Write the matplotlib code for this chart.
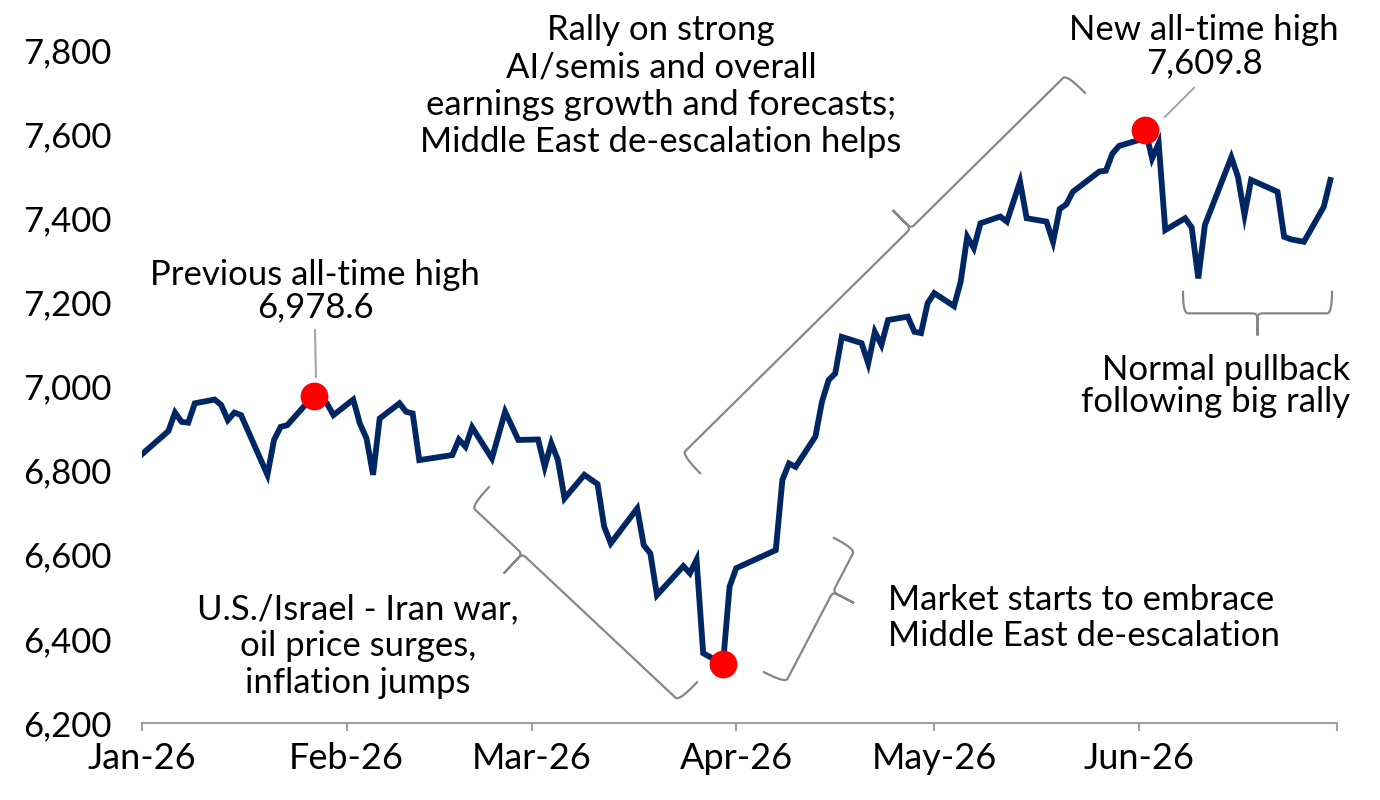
import numpy as np
import pandas as pd
import matplotlib
matplotlib.use("Agg")
import matplotlib.pyplot as plt
import matplotlib.dates as mdates
from matplotlib.lines import Line2D
from matplotlib.transforms import IdentityTransform
from matplotlib.ticker import StrMethodFormatter

plt.rcParams['font.family'] = ['Lato', 'DejaVu Sans']

# S&P 500 level, 2026
dates = ["2026-01-01", "2026-01-05", "2026-01-06", "2026-01-07", "2026-01-08", "2026-01-09",
         "2026-01-12", "2026-01-13", "2026-01-14", "2026-01-15", "2026-01-16", "2026-01-20",
         "2026-01-21", "2026-01-22", "2026-01-23", "2026-01-27", "2026-01-29", "2026-01-30",
         "2026-02-02", "2026-02-03", "2026-02-04", "2026-02-05", "2026-02-06", "2026-02-09",
         "2026-02-10", "2026-02-11", "2026-02-12", "2026-02-17", "2026-02-18", "2026-02-19",
         "2026-02-20", "2026-02-23", "2026-02-25", "2026-02-27", "2026-03-02", "2026-03-03",
         "2026-03-04", "2026-03-05", "2026-03-06", "2026-03-09", "2026-03-10", "2026-03-11",
         "2026-03-12", "2026-03-13", "2026-03-17", "2026-03-18", "2026-03-19", "2026-03-20",
         "2026-03-24", "2026-03-25", "2026-03-26", "2026-03-27", "2026-03-30", "2026-03-31",
         "2026-04-01", "2026-04-07", "2026-04-08", "2026-04-09", "2026-04-10", "2026-04-13",
         "2026-04-14", "2026-04-15", "2026-04-16", "2026-04-17", "2026-04-20", "2026-04-21",
         "2026-04-22", "2026-04-23", "2026-04-24", "2026-04-27", "2026-04-28", "2026-04-29",
         "2026-04-30", "2026-05-01", "2026-05-04", "2026-05-05", "2026-05-06", "2026-05-07",
         "2026-05-08", "2026-05-11", "2026-05-12", "2026-05-14", "2026-05-15", "2026-05-18",
         "2026-05-19", "2026-05-20", "2026-05-21", "2026-05-22", "2026-05-26", "2026-05-27",
         "2026-05-28", "2026-05-29", "2026-06-01", "2026-06-02", "2026-06-03", "2026-06-04",
         "2026-06-05", "2026-06-08", "2026-06-09", "2026-06-10", "2026-06-11", "2026-06-15",
         "2026-06-16", "2026-06-17", "2026-06-18", "2026-06-22", "2026-06-23", "2026-06-24",
         "2026-06-26", "2026-06-29", "2026-06-30"]
values = [6839, 6894, 6938, 6916, 6914, 6960,
          6969, 6956, 6920, 6938, 6932, 6790,
          6873, 6904, 6908, 6978.6, 6960, 6932,
          6969, 6912, 6877, 6790, 6924, 6960,
          6940, 6936, 6825, 6837, 6874, 6857,
          6903, 6829, 6940, 6873, 6874, 6809,
          6865, 6825, 6734, 6790, 6779, 6768,
          6667, 6627, 6710, 6623, 6603, 6504,
          6573, 6556, 6588, 6366, 6340, 6524,
          6568, 6611, 6778, 6817, 6809, 6881,
          6964, 7015, 7031, 7118, 7103, 7055,
          7130, 7099, 7158, 7166, 7130, 7127,
          7198, 7222, 7191, 7249, 7356, 7329,
          7388, 7404, 7392, 7487, 7400, 7392,
          7344, 7422, 7433, 7463, 7511, 7513,
          7554, 7572, 7586, 7609.8, 7542, 7578,
          7372, 7400, 7378, 7257, 7384, 7545,
          7499, 7408, 7491, 7463, 7356, 7350,
          7344, 7427, 7491]

marker_dates = ["2026-01-27", "2026-03-30", "2026-06-02"]
marker_values = [6978.6, 6340, 7609.8]

month_ticks = ["2026-01-01", "2026-02-01", "2026-03-01", "2026-04-01",
               "2026-05-01", "2026-06-01", "2026-07-01"]
month_labels = ["Jan-26", "Feb-26", "Mar-26", "Apr-26", "May-26", "Jun-26", ""]
y_ticks = [6200, 6400, 6600, 6800, 7000, 7200, 7400, 7600, 7800]

navy = "#002664"
brace_col = "#878787"
lead_col = "#A6A6A6"

fig = plt.figure(figsize=(13.8, 8), dpi=100)
ax = fig.add_axes([0.1029, 0.09625, 0.8659, 0.84125])

x = pd.to_datetime(dates)
ax.plot(x, values, color=navy, lw=4.2, solid_joinstyle="miter", zorder=2)
ax.plot(pd.to_datetime(marker_dates), marker_values, "o", color="#FF0000",
        ms=20, mec="none", zorder=3)

ax.set_xlim(pd.Timestamp("2026-01-01"), pd.Timestamp("2026-07-01"))
ax.set_ylim(6200, 7800)
ax.set_xticks(pd.to_datetime(month_ticks))
ax.set_xticklabels(month_labels)
ax.set_yticks(y_ticks)
ax.yaxis.set_major_formatter(StrMethodFormatter("{x:,.0f}"))

for s in ["top", "right", "left"]:
    ax.spines[s].set_visible(False)
ax.spines["bottom"].set_color("#A0A0A0")
ax.spines["bottom"].set_linewidth(1.5)
ax.tick_params(axis="x", direction="out", length=6, width=1.5, color="#A0A0A0",
               labelsize=26, pad=8)
ax.tick_params(axis="y", length=0, labelsize=25, pad=22)

base = mdates.date2num(pd.Timestamp("2026-01-01"))


def dx(d):
    # fractional days after Jan 1 -> date number
    return base + d


# leader lines for the two highs
ax.plot([dx(26.2), dx(26.35)], [7134, 7023], color=lead_col, lw=1.5, clip_on=False, zorder=1)
ax.plot([dx(154.95), dx(159.35)], [7641, 7710], color=lead_col, lw=1.5, clip_on=False, zorder=1)


def quad(p, c, e, k=10):
    s = np.linspace(0, 1, k)[:, None]
    p, c, e = np.array(p), np.array(c), np.array(e)
    return (1 - s) ** 2 * p + 2 * (1 - s) * s * c + s ** 2 * e


def brace(p0, p1, h, c, frac, side, r=5):
    a = ax.transData.transform((dx(p0[0]), p0[1]))
    b = ax.transData.transform((dx(p1[0]), p1[1]))
    t = b - a
    L = np.hypot(*t)
    t = t / L
    n = np.array([-t[1], t[0]]) * side
    m = frac * L
    uv = np.vstack([
        quad((0, 0), (0, h), (r, h)),
        quad((m - r, h), (m, h), (m, h + r)),
        [(m, h + c), (m, h + r)],
        quad((m, h + r), (m, h), (m + r, h)),
        quad((L - r, h), (L, h), (L, 0)),
    ])
    pts = a + uv[:, :1] * t + uv[:, 1:] * n
    fig.add_artist(Line2D(pts[:, 0], pts[:, 1], transform=IdentityTransform(),
                          color=brace_col, lw=1.6, solid_joinstyle="round"))


brace((84.52, 6794), (142.84, 7698), 26, 25, 0.595, 1)   # rally
brace((52.56, 6761), (84.07, 6297), 26, 26, 0.245, -1)   # war
brace((104.82, 6640), (94.21, 6321), 24, 23, 0.32, 1)    # market
brace((157.68, 7225), (180.25, 7225), 21.5, 21.5, 0.5, -1)  # pullback

fs = 25
ax.text(dx(26.2), 7227, "Previous all-time high\n6,978.6", ha="center", va="center",
        fontsize=fs, linespacing=0.99)
ax.text(dx(160.9), 7808, "New all-time high\n7,609.8", ha="center", va="center",
        fontsize=fs, linespacing=1.08)
ax.text(dx(78.6), 7714, "Rally on strong\nAI/semis and overall\nearnings growth and forecasts;\n"
        "Middle East de-escalation helps", ha="center", va="center", fontsize=fs,
        linespacing=1.2)
ax.text(dx(183.0), 7001, "Normal pullback\nfollowing big rally", ha="right", va="center",
        fontsize=fs, linespacing=1.0)
ax.text(dx(32.7), 6383, "U.S./Israel - Iran war,\noil price surges,\ninflation jumps",
        ha="center", va="center", fontsize=fs, linespacing=1.19)
ax.text(dx(113.0), 6449, "Market starts to embrace\nMiddle East de-escalation", ha="left",
        va="center", fontsize=fs, linespacing=1.16)

fig.savefig("out.png", dpi=100)
